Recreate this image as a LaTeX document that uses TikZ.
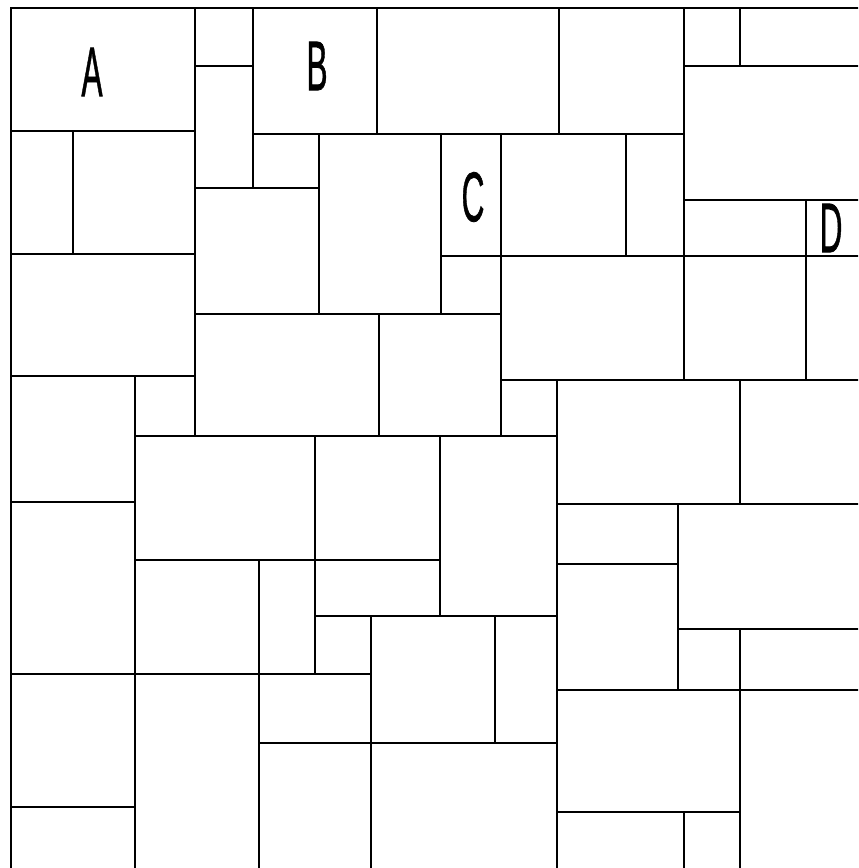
\documentclass[tikz,border=0pt]{standalone}
\usepackage{graphicx}
\usepackage{fontspec}
\newfontfamily\tilefont[FakeBold=1.2]{Liberation Sans}
\newcommand{\tilelabel}[1]{\scalebox{0.45}[1]{#1}}

\begin{document}
\begin{tikzpicture}[x=0.02cm, y=-0.02cm,
  edge/.style={line width=1.1pt, line cap=rect},
  tag/.style={font=\tilefont\fontsize{40}{44}\selectfont, inner sep=0pt}]
\useasboundingbox (0,0) rectangle (858,868);
\clip (0,0) rectangle (858,868);
% outer frame
\draw[edge] (11,868) -- (11,8) -- (858,8);
% horizontal joints: y / from / to
\foreach \y/\a/\b in {66/195/253, 66/684/858, 131/11/195, 134/253/684,
  188/195/319, 200/684/858, 254/11/195, 256/441/858, 314/195/501,
  376/11/195, 380/501/858, 436/135/557, 502/11/135, 504/557/858,
  560/135/440, 564/557/678, 616/315/557, 629/678/858, 674/11/371,
  690/557/858, 743/259/557, 807/11/135, 812/557/740}
  \draw[edge] (\a,\y) -- (\b,\y);
% vertical joints: x / from / to
\foreach \x/\a/\b in {73/131/254, 135/376/868, 195/8/436, 253/8/188,
  259/560/868, 315/436/674, 319/134/314, 371/616/868, 377/8/134,
  379/314/436, 440/436/616, 441/134/314, 495/616/743, 501/134/436,
  557/380/868, 559/8/134, 626/134/256, 678/504/690, 684/8/380,
  684/812/868, 740/8/66, 740/380/504, 740/629/868, 806/200/380}
  \draw[edge] (\x,\a) -- (\x,\b);
% labels
\node[tag] (A) at (92,72) {\tilelabel{A}};
\node[tag] (B) at (317,66) {\tilelabel{B}};
\node[tag] (C) at (473,197) {\tilelabel{C}};
\node[tag] (D) at (831,228) {\tilelabel{D}};
\end{tikzpicture}
\end{document}
